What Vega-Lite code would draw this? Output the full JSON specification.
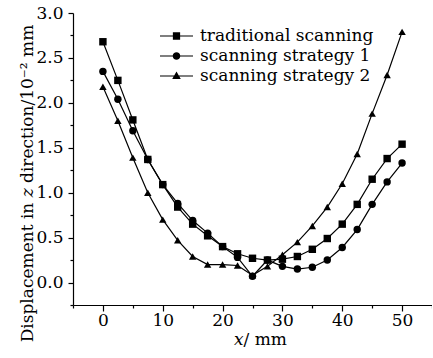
{
  "$schema": "https://vega.github.io/schema/vega-lite/v6.json",
  "width": 359,
  "height": 292,
  "autosize": "none",
  "padding": {"left": 73, "top": 13, "right": 0, "bottom": 53},
  "background": "white",
  "config": {
    "view": {"stroke": null},
    "font": "DejaVu Serif",
    "axis": {
      "domainColor": "black",
      "tickColor": "black",
      "labelColor": "black",
      "titleColor": "black",
      "labelFont": "DejaVu Serif",
      "titleFont": "DejaVu Serif",
      "labelFontSize": 17,
      "titleFontSize": 17,
      "titleFontWeight": "normal",
      "grid": false,
      "labelFlush": false,
      "labelOverlap": false,
      "domainWidth": 1.2,
      "tickWidth": 1.2
    }
  },
  "data": {
    "values": [
      {"series": "traditional scanning", "x": 0, "y": 2.68},
      {"series": "traditional scanning", "x": 2.5, "y": 2.25},
      {"series": "traditional scanning", "x": 5, "y": 1.81},
      {"series": "traditional scanning", "x": 7.5, "y": 1.37},
      {"series": "traditional scanning", "x": 10, "y": 1.09},
      {"series": "traditional scanning", "x": 12.5, "y": 0.84},
      {"series": "traditional scanning", "x": 15, "y": 0.65},
      {"series": "traditional scanning", "x": 17.5, "y": 0.52},
      {"series": "traditional scanning", "x": 20, "y": 0.40},
      {"series": "traditional scanning", "x": 22.5, "y": 0.32},
      {"series": "traditional scanning", "x": 25, "y": 0.27},
      {"series": "traditional scanning", "x": 27.5, "y": 0.25},
      {"series": "traditional scanning", "x": 30, "y": 0.26},
      {"series": "traditional scanning", "x": 32.5, "y": 0.29},
      {"series": "traditional scanning", "x": 35, "y": 0.37},
      {"series": "traditional scanning", "x": 37.5, "y": 0.49},
      {"series": "traditional scanning", "x": 40, "y": 0.65},
      {"series": "traditional scanning", "x": 42.5, "y": 0.87},
      {"series": "traditional scanning", "x": 45, "y": 1.15},
      {"series": "traditional scanning", "x": 47.5, "y": 1.38},
      {"series": "traditional scanning", "x": 50, "y": 1.54},
      {"series": "scanning strategy 1", "x": 0, "y": 2.35},
      {"series": "scanning strategy 1", "x": 2.5, "y": 2.04},
      {"series": "scanning strategy 1", "x": 5, "y": 1.69},
      {"series": "scanning strategy 1", "x": 7.5, "y": 1.37},
      {"series": "scanning strategy 1", "x": 10, "y": 1.09},
      {"series": "scanning strategy 1", "x": 12.5, "y": 0.88},
      {"series": "scanning strategy 1", "x": 15, "y": 0.69},
      {"series": "scanning strategy 1", "x": 17.5, "y": 0.55},
      {"series": "scanning strategy 1", "x": 20, "y": 0.40},
      {"series": "scanning strategy 1", "x": 22.5, "y": 0.28},
      {"series": "scanning strategy 1", "x": 25, "y": 0.07},
      {"series": "scanning strategy 1", "x": 27.5, "y": 0.25},
      {"series": "scanning strategy 1", "x": 30, "y": 0.18},
      {"series": "scanning strategy 1", "x": 32.5, "y": 0.15},
      {"series": "scanning strategy 1", "x": 35, "y": 0.17},
      {"series": "scanning strategy 1", "x": 37.5, "y": 0.25},
      {"series": "scanning strategy 1", "x": 40, "y": 0.39},
      {"series": "scanning strategy 1", "x": 42.5, "y": 0.59},
      {"series": "scanning strategy 1", "x": 45, "y": 0.87},
      {"series": "scanning strategy 1", "x": 47.5, "y": 1.12},
      {"series": "scanning strategy 1", "x": 50, "y": 1.33},
      {"series": "scanning strategy 2", "x": 0, "y": 2.18},
      {"series": "scanning strategy 2", "x": 2.5, "y": 1.80},
      {"series": "scanning strategy 2", "x": 5, "y": 1.39},
      {"series": "scanning strategy 2", "x": 7.5, "y": 1.00},
      {"series": "scanning strategy 2", "x": 10, "y": 0.70},
      {"series": "scanning strategy 2", "x": 12.5, "y": 0.47},
      {"series": "scanning strategy 2", "x": 15, "y": 0.29},
      {"series": "scanning strategy 2", "x": 17.5, "y": 0.20},
      {"series": "scanning strategy 2", "x": 20, "y": 0.20},
      {"series": "scanning strategy 2", "x": 22.5, "y": 0.19},
      {"series": "scanning strategy 2", "x": 25, "y": 0.08},
      {"series": "scanning strategy 2", "x": 27.5, "y": 0.18},
      {"series": "scanning strategy 2", "x": 30, "y": 0.31},
      {"series": "scanning strategy 2", "x": 32.5, "y": 0.45},
      {"series": "scanning strategy 2", "x": 35, "y": 0.63},
      {"series": "scanning strategy 2", "x": 37.5, "y": 0.84},
      {"series": "scanning strategy 2", "x": 40, "y": 1.10},
      {"series": "scanning strategy 2", "x": 42.5, "y": 1.43},
      {"series": "scanning strategy 2", "x": 45, "y": 1.88},
      {"series": "scanning strategy 2", "x": 47.5, "y": 2.31},
      {"series": "scanning strategy 2", "x": 50, "y": 2.79}
    ]
  },
  "encoding": {
    "x": {
      "field": "x",
      "type": "quantitative",
      "scale": {"domain": [-5, 55], "nice": false, "zero": false},
      "axis": {
        "title": "𝑥/ mm",
        "values": [-5, 0, 5, 10, 15, 20, 25, 30, 35, 40, 45, 50, 55],
        "labelExpr": "datum.value % 10 === 0 ? format(datum.value, 'd') : ''",
        "tickSize": {"condition": {"test": "datum.value % 10 !== 0", "value": 3}, "value": 6},
        "labelPadding": 1,
        "titleX": 187,
        "titleY": 39,
        "titleBaseline": "alphabetic",
        "titleAlign": "center"
      }
    },
    "y": {
      "field": "y",
      "type": "quantitative",
      "scale": {"domain": [-0.25, 3.0], "nice": false, "zero": false},
      "axis": {
        "title": "Displacement in 𝑧 direction/10⁻² mm",
        "values": [-0.25, 0, 0.25, 0.5, 0.75, 1, 1.25, 1.5, 1.75, 2, 2.25, 2.5, 2.75, 3],
        "labelExpr": "abs(datum.value * 2 - round(datum.value * 2)) < 0.001 ? format(datum.value, '.1f') : ''",
        "tickSize": {"condition": {"test": "abs(datum.value * 2 - round(datum.value * 2)) > 0.001", "value": 3}, "value": 5},
        "labelPadding": 5,
        "titleAngle": -90,
        "titleX": -41,
        "titleY": 170,
        "titleAlign": "center",
        "titleBaseline": "alphabetic"
      }
    }
  },
  "layer": [
    {
      "mark": {"type": "line", "color": "black", "strokeWidth": 1.2},
      "encoding": {"detail": {"field": "series"}}
    },
    {
      "mark": {"type": "point", "filled": true, "color": "black", "opacity": 1, "size": 55},
      "encoding": {
        "shape": {
          "field": "series",
          "type": "nominal",
          "scale": {
            "domain": ["traditional scanning", "scanning strategy 1", "scanning strategy 2"],
            "range": ["square", "circle", "triangle-up"]
          },
          "legend": null
        }
      }
    },
    {
      "transform": [{"filter": "datum.x > 1000"}],
      "mark": {"type": "point", "filled": true, "color": "black", "opacity": 1},
      "encoding": {
        "shape": {
          "field": "series",
          "type": "nominal",
          "scale": {
            "domain": ["traditional scanning", "scanning strategy 1", "scanning strategy 2"],
            "range": [
              "M-1,-0.036H1V0.036H-1ZM-0.22,-0.22H0.22V0.22H-0.22Z",
              "M-1,-0.036H1V0.036H-1ZM-0.23,0A0.23,0.23,0,1,1,0.23,0A0.23,0.23,0,1,1,-0.23,0Z",
              "M-1,-0.036H1V0.036H-1ZM0,-0.27L0.26,0.18L-0.26,0.18Z"
            ]
          },
          "legend": {
            "title": null,
            "orient": "none",
            "legendX": 87,
            "legendY": 13,
            "padding": 0,
            "clipHeight": 20,
            "rowPadding": 0,
            "symbolSize": 1089,
            "symbolOffset": 0,
            "symbolFillColor": "black",
            "symbolStrokeColor": "black",
            "symbolStrokeWidth": 0,
            "symbolOpacity": 1,
            "labelFont": "DejaVu Serif",
            "labelFontSize": 17,
            "labelColor": "black",
            "labelOffset": 7,
            "labelLimit": 400
          }
        }
      }
    }
  ],
  "resolve": {"scale": {"shape": "independent"}, "legend": {"shape": "independent"}}
}
